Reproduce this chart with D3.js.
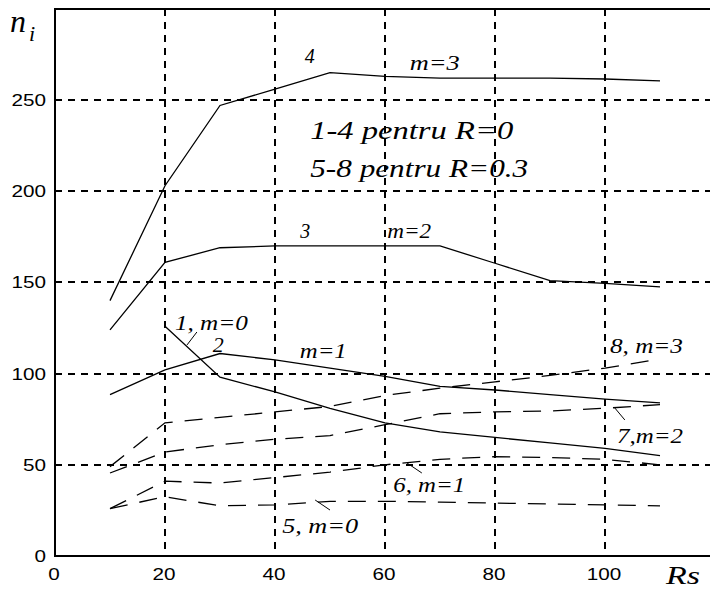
<!DOCTYPE html>
<html>
<head>
<meta charset="utf-8">
<script src="https://cdn.jsdelivr.net/npm/d3@7"></script>
<style>
  html, body { margin: 0; padding: 0; background: #fff; }
  svg { display: block; }
</style>
</head>
<body>
<svg id="chart" width="710" height="589"></svg>
<script>
// ---- data ----
const rsValues = [10, 20, 30, 40, 50, 60, 70, 80, 90, 100, 110];
const curve1 = [null, 126, 98, 90, 81, 73, 68, 65, 62, 59, 55];
const curve2 = [88.5, 102, 111, 107.5, 103, 98.5, 93, 91, 88.5, 86, 84];
const curve3 = [124, 161, 169, 170, 170, 170, 170, 160.5, 151, 149.5, 147.5];
const curve4 = [140, 203, 247, 256, 265, 263, 262, 262, 262, 261.5, 260.5];
const curve5 = [26, 32.5, 27.5, 28, 30, 30, 29.5, 29, 28.5, 28, 27.5];
const curve6 = [26, 41, 40, 43, 46, 50, 53, 54.5, 54, 53, 50];
const curve7 = [45.5, 57, 61, 64, 66, 72, 78, 79, 79.5, 81, 83];
const curve8 = [49, 73, 76, 79, 82, 88, 92, 95.5, 99, 103, 108];
const solidSeries = [curve1, curve2, curve3, curve4];
const dashedSeries = [curve5, curve6, curve7, curve8];
const xTicks = [0, 20, 40, 60, 80, 100];
const yTicks = [0, 50, 100, 150, 200, 250];
const gridX = [20, 40, 60, 80, 100];
const gridY = [50, 100, 150, 200, 250];
const curveLabels = [
  {t: "4", x: 45.4, y: 270.3, w: 10},
  {t: "m=3", x: 64.5, y: 266.4, w: 50},
  {t: "3", x: 44.6, y: 174.3, w: 10},
  {t: "m=2", x: 60.4, y: 174.3, w: 44},
  {t: "1, m=0", x: 21.8, y: 123.9, w: 73},
  {t: "2", x: 28.7, y: 111.8, w: 11},
  {t: "m=1", x: 44.5, y: 108.6, w: 47},
  {t: "8, m=3", x: 100.9, y: 111.3, w: 73},
  {t: "7,m=2", x: 102.2, y: 62, w: 66},
  {t: "6, m=1", x: 61.5, y: 35.1, w: 72},
  {t: "5, m=0", x: 41.3, y: 12.6, w: 76}
];
const pointers = [
  [[24, 115.7], [25.8, 122.8]],
  [[101.8, 81.1], [103.6, 74.6]],
  [[64, 51], [66.7, 45.5]],
  [[47.3, 30.7], [50, 25.2]]
];
const noteLines = [
  {t: "1-4 pentru  R=0", x: 46.4, y: 228.6, w: 203},
  {t: "5-8 pentru R=0.3", x: 46.4, y: 207.8, w: 218}
];

// ---- layout ----
const svg = d3.select("#chart");
const W = 710, H = 589;
const x = d3.scaleLinear().domain([0, 100]).range([55, 605]);
const y = d3.scaleLinear().domain([0, 250]).range([556, 100]);
const xMax = x.invert(W), yTop = y.invert(9);

// grid
const grid = svg.append("g").attr("stroke", "#000").attr("stroke-width", 1.6)
  .attr("stroke-dasharray", "7,6").attr("shape-rendering", "crispEdges");
grid.selectAll("line.gx").data(gridX).join("line")
  .attr("x1", d => Math.round(x(d))).attr("x2", d => Math.round(x(d)))
  .attr("y1", y(yTop)).attr("y2", y(0));
grid.selectAll("line.gy").data(gridY).join("line")
  .attr("y1", d => Math.round(y(d))).attr("y2", d => Math.round(y(d)))
  .attr("x1", x(0)).attr("x2", x(xMax));

// frame
const frame = svg.append("g").attr("stroke", "#000").attr("stroke-width", 2).attr("fill", "none");
frame.append("path").attr("d", `M${x(xMax)},${y(yTop)}H${x(0)}V${y(0)}H${x(xMax)}`);

// curves
const line = d3.line().defined(d => d[1] != null).x(d => x(d[0])).y(d => y(d[1]));
const toPts = s => rsValues.map((r, i) => [r, s[i]]);
svg.append("g").selectAll("path").data(solidSeries).join("path")
  .attr("d", s => line(toPts(s))).attr("fill", "none").attr("stroke", "#000").attr("stroke-width", 1.3);
svg.append("g").selectAll("path").data(dashedSeries).join("path")
  .attr("d", s => line(toPts(s))).attr("fill", "none").attr("stroke", "#000").attr("stroke-width", 1.3)
  .attr("stroke-dasharray", "18,12");

// pointers
svg.append("g").selectAll("line").data(pointers).join("line")
  .attr("x1", d => x(d[0][0])).attr("y1", d => y(d[0][1]))
  .attr("x2", d => x(d[1][0])).attr("y2", d => y(d[1][1]))
  .attr("stroke", "#000").attr("stroke-width", 1);

// tick labels
const tickFont = "'Liberation Sans', Arial, sans-serif";
const digitW = 11.5;
svg.append("g").selectAll("text").data(yTicks).join("text")
  .attr("x", d => 46 - String(d).length * digitW)
  .attr("y", d => y(d) + 6)
  .attr("textLength", d => String(d).length * digitW)
  .attr("lengthAdjust", "spacingAndGlyphs")
  .attr("font-family", tickFont).attr("font-size", 17).text(d => d);
svg.append("g").selectAll("text").data(xTicks).join("text")
  .attr("x", d => x(d) - String(d).length * digitW / 2 - 1)
  .attr("y", 580)
  .attr("textLength", d => String(d).length * digitW)
  .attr("lengthAdjust", "spacingAndGlyphs")
  .attr("font-family", tickFont).attr("font-size", 17).text(d => d);

// italic labels
const serif = "'Liberation Serif', 'Times New Roman', serif";
const lbl = svg.append("g").attr("font-family", serif).attr("font-style", "italic").attr("font-size", 20);
curveLabels.forEach(d => {
  lbl.append("text").attr("x", x(d.x)).attr("y", y(d.y))
    .attr("textLength", d.w).attr("lengthAdjust", "spacingAndGlyphs").text(d.t);
});
noteLines.forEach(d => {
  svg.append("text").attr("x", x(d.x)).attr("y", y(d.y))
    .attr("font-family", serif).attr("font-style", "italic").attr("font-size", 25)
    .attr("textLength", d.w).attr("lengthAdjust", "spacingAndGlyphs").text(d.t);
});

// axis titles
const ni = svg.append("text").attr("x", 10).attr("y", 32)
  .attr("font-family", serif).attr("font-style", "italic").attr("font-size", 32);
ni.append("tspan").text("n");
ni.append("tspan").attr("font-size", 22).attr("dx", 3).attr("dy", 9).text("i");
svg.append("text").attr("x", 666).attr("y", 584)
  .attr("font-family", serif).attr("font-style", "italic").attr("font-size", 25)
  .attr("textLength", 34).attr("lengthAdjust", "spacingAndGlyphs").text("Rs");
</script>
</body>
</html>
